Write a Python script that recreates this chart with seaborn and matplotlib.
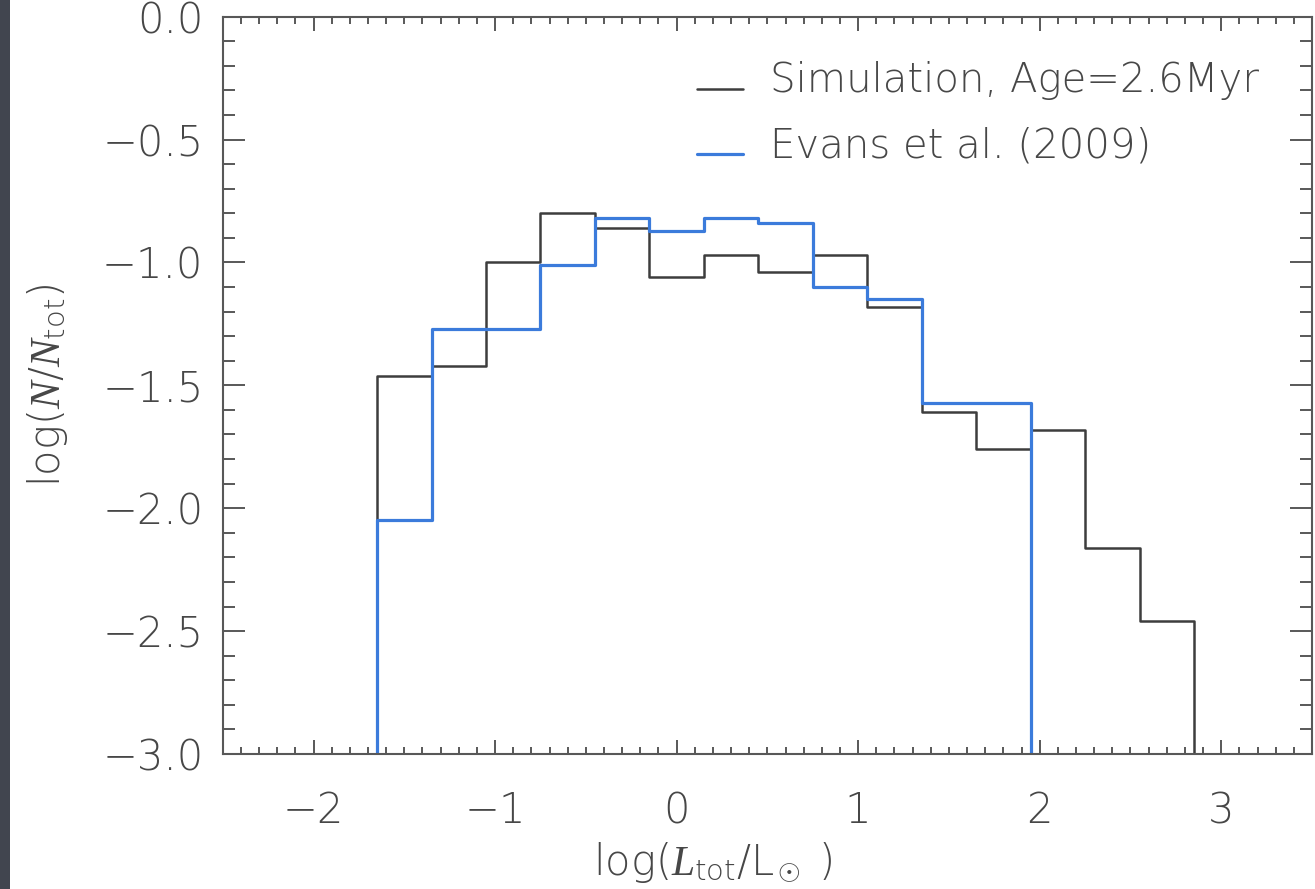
import numpy as np
import pandas as pd
import matplotlib
matplotlib.use("Agg")
import matplotlib.pyplot as plt
from matplotlib.patches import Rectangle
from matplotlib.ticker import MultipleLocator
from matplotlib.lines import Line2D
import seaborn as sns

# Luminosity bins: log10(L_tot / L_sun), 0.3 dex wide
sim_edges = [-1.65, -1.35, -1.05, -0.75, -0.45, -0.15, 0.15, 0.45,
             0.75, 1.05, 1.35, 1.65, 1.95, 2.25, 2.55, 2.85]
# log10 of the fraction of sources in each bin
sim_logfrac = [-1.46, -1.42, -1.00, -0.80, -0.86, -1.06, -0.97, -1.04,
               -0.97, -1.18, -1.61, -1.76, -1.68, -2.16, -2.46]

obs_edges = [-1.65, -1.35, -1.05, -0.75, -0.45, -0.15, 0.15, 0.45,
             0.75, 1.05, 1.35, 1.65, 1.95]
obs_logfrac = [-2.05, -1.27, -1.27, -1.01, -0.82, -0.87, -0.82, -0.84,
               -1.10, -1.15, -1.57, -1.57]

sim_label = "Simulation, Age=2.6Myr"
obs_label = "Evans et al. (2009)"

x_ticks = [-2, -1, 0, 1, 2, 3]
y_ticks = [0.0, -0.5, -1.0, -1.5, -2.0, -2.5, -3.0]
x_range = (-2.5, 3.5)
y_range = (-3.0, 0.0)

sim_color = "#3d3d3d"
obs_color = "#3b7bdb"
text_color = "#474747"
frame_color = "#585858"


def step_outline(edges, vals, floor):
    """Outline of a histogram that rises from and returns to the floor."""
    x = [edges[0]] + list(edges)
    y = [floor] + list(vals) + [floor]
    return pd.DataFrame({"x": x, "y": y})


sns.set_theme(style="ticks")
plt.rcParams["font.family"] = ["DejaVu Sans"]
plt.rcParams["font.weight"] = "light"
plt.rcParams["axes.labelweight"] = "light"
plt.rcParams["mathtext.fontset"] = "custom"
plt.rcParams["mathtext.rm"] = "DejaVu Sans:light"
plt.rcParams["mathtext.it"] = "Liberation Serif:italic"
plt.rcParams["axes.unicode_minus"] = True

fig = plt.figure(figsize=(13.15, 8.89), dpi=100)
fig.patch.set_facecolor("white")
ax = fig.add_axes([0.1694, 0.1519, 0.9977 - 0.1694, 0.9812 - 0.1519])

# dark strip along the left edge of the canvas
fig.patches.append(Rectangle((0, 0), 10 / 1315, 1, transform=fig.transFigure,
                             facecolor="#41454f", edgecolor="none", zorder=-5))

sim_df = step_outline(sim_edges, sim_logfrac, y_range[0])
obs_df = step_outline(obs_edges, obs_logfrac, y_range[0])

sns.lineplot(data=sim_df, x="x", y="y", ax=ax, sort=False, estimator=None,
             drawstyle="steps-post", color=sim_color, linewidth=1.8)
sns.lineplot(data=obs_df, x="x", y="y", ax=ax, sort=False, estimator=None,
             drawstyle="steps-post", color=obs_color, linewidth=2.3)

ax.set_xlim(*x_range)
ax.set_ylim(*y_range)
ax.set_xticks(x_ticks)
ax.set_yticks(y_ticks)
ax.xaxis.set_minor_locator(MultipleLocator(0.1))
ax.yaxis.set_minor_locator(MultipleLocator(0.1))

for side in ax.spines.values():
    side.set_color(frame_color)
    side.set_linewidth(1.5)

ax.tick_params(axis="both", which="both", direction="in", top=True, right=True,
               width=1.4, color=frame_color, labelcolor=text_color, labelsize=30)
ax.tick_params(axis="y", which="major", length=16, pad=14)
ax.tick_params(axis="y", which="minor", length=8.5)
ax.tick_params(axis="x", which="major", length=10, pad=26)
ax.tick_params(axis="x", which="minor", length=5)

ax.set_xlabel(r"log($L_{\rm tot}$/L$_\odot$ )", fontsize=30, color=text_color,
              fontweight="light")
ax.set_ylabel(r"log($N/N_{\rm tot}$)", fontsize=30, color=text_color,
              fontweight="light")
ax.xaxis.set_label_coords(0.45, -0.118)
ax.yaxis.set_label_coords(-0.14, 0.5)

handles = [Line2D([], [], color=sim_color, linewidth=1.8),
           Line2D([], [], color=obs_color, linewidth=2.3)]
leg = ax.legend(handles, [sim_label, obs_label], loc="upper left",
                bbox_to_anchor=(0.435, 0.94), frameon=False,
                prop={"size": 29, "weight": "light"},
                handlelength=1.15, handletextpad=0.68, labelspacing=0.65,
                borderpad=0, borderaxespad=0)
for t in leg.get_texts():
    t.set_color(text_color)
# legend sample lines sit near the text baseline
for h in leg.legend_handles:
    h.set_ydata(np.asarray(h.get_ydata()) - 8)

fig.savefig("out.png", dpi=100, facecolor="white")
